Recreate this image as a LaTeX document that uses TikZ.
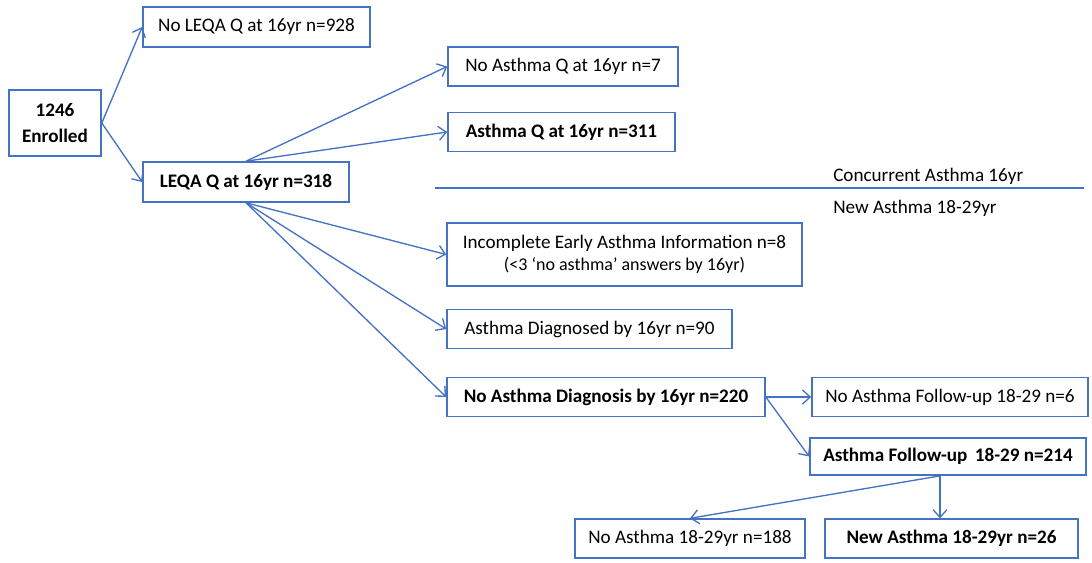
\documentclass[tikz,border=0pt]{standalone}
\usepackage{fontspec}
\setmainfont{Carlito}
\usepackage{xcolor}
\usetikzlibrary{arrows.meta}
\definecolor{flowblue}{RGB}{68,114,196}

\begin{document}
\begin{tikzpicture}[
    x=0.025cm, y=-0.025cm,
    every node/.style={font=\fontsize{13.6}{17}\selectfont},
    plainbox/.style={rectangle, minimum height=0.97cm, inner sep=2pt, text centered, draw=flowblue, line width=1.1pt, fill=white},
    keybox/.style={plainbox, font=\fontsize{13.6}{17}\selectfont\bfseries},
    arrow/.style={line width=0.95pt, draw=flowblue, -{Straight Barb[length=5.5pt,width=10pt]}},
    divider/.style={line width=1pt, draw=flowblue}
]
\useasboundingbox (0,0) rectangle (1092,562);

\node (enrolled) [keybox, minimum width=2.3cm, minimum height=1.65cm, align=center, font=\fontsize{13.6}{18.5}\selectfont\bfseries] at (55,123) {1246\\Enrolled};
\node (noleqa) [plainbox, minimum width=5.675cm, minimum height=1cm] at (256.5,27) {No LEQA Q at 16yr n=928};
\node (leqa) [keybox, minimum width=5.15cm, minimum height=1cm] at (246,182) {LEQA Q at 16yr n=318};
\node (noasthmaq) [plainbox, minimum width=5.75cm] at (563,66.5) {No Asthma Q at 16yr n=7};
\node (asthmaq) [keybox, minimum width=5.675cm] at (561.5,132) {Asthma Q at 16yr n=311};
\node (incomplete) [plainbox, minimum width=8.875cm, minimum height=1.575cm, align=center] at (624.5,254.5) {Incomplete Early Asthma Information n=8\\[-1pt]{\fontsize{12.8}{15}\selectfont(<3 ‘no asthma’ answers by 16yr)}};
\node (diagnosed) [plainbox, minimum width=7.125cm] at (589.5,329) {Asthma Diagnosed by 16yr n=90};
\node (nodiag) [keybox, minimum width=7.95cm] at (606,397) {No Asthma Diagnosis by 16yr n=220};
\node (nofollow) [plainbox, minimum width=6.9cm] at (950,397) {No Asthma Follow-up 18-29 n=6};
\node (followup) [keybox, minimum width=6.9cm, minimum height=0.93cm] at (948,456.5) {Asthma Follow-up \,18-29 n=214};
\node (noasthma) [plainbox, minimum width=5.75cm] at (690,538.5) {No Asthma 18-29yr n=188};
\node (newasthma) [keybox, minimum width=6.325cm] at (951.5,538.5) {New Asthma 18-29yr n=26};

\coordinate (divleft) at (435,188);
\coordinate (divright) at (1084,188);
\draw [divider] (divleft) -- (divright);
\node (concurrent) [anchor=west, inner sep=0pt] at (833,176) {Concurrent Asthma 16yr};
\node (newlabel) [anchor=west, inner sep=0pt] at (833,208) {New Asthma 18-29yr};

\draw [arrow] (enrolled.east) -- (noleqa.west);
\draw [arrow] (enrolled.east) -- (leqa.west);
\draw [arrow] (leqa.north) -- (noasthmaq.west);
\draw [arrow] (leqa.north) -- (asthmaq.west);
\draw [arrow] (leqa.south) -- (incomplete.west);
\draw [arrow] (leqa.south) -- (diagnosed.west);
\draw [arrow] (leqa.south) -- (nodiag.west);
\draw [arrow] (nodiag.east) -- (nofollow.west);
\draw [arrow] (nodiag.east) -- (followup.west);
\draw [arrow] ([xshift=-0.2cm]followup.south) -- (noasthma.north);
\draw [arrow] ([xshift=-0.2cm]followup.south) -- ([xshift=-0.2cm]followup.south |- newasthma.north);

\end{tikzpicture}
\end{document}
